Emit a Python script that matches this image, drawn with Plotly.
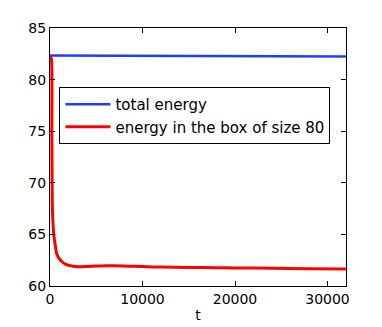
import plotly.graph_objects as go

# total energy (nearly constant)
t_total = [0, 5000, 10000, 15000, 20000, 25000, 32000]
e_total = [82.33, 82.32, 82.30, 82.29, 82.27, 82.25, 82.23]

# energy inside the box of size 80
t_box = [0, 150, 200, 250, 300, 410, 590, 700, 950, 1300, 1700, 2100, 2500, 3000,
         4000, 5000, 6000, 8000, 10000, 12000, 15000, 18000, 20000, 24000, 28000, 32000]
e_box = [82.3, 82.0, 75.0, 68.0, 66.5, 65.0, 63.8, 63.2, 62.7, 62.35, 62.1, 61.98, 61.92, 61.87,
         61.9, 61.93, 61.96, 61.95, 61.88, 61.83, 61.8, 61.78, 61.75, 61.72, 61.68, 61.64]

font = "DejaVu Sans"

fig = go.Figure()
fig.add_trace(go.Scatter(x=t_total, y=e_total, mode="lines", name="total energy",
                         line=dict(color="#1f3dff", width=2.5)))
fig.add_trace(go.Scatter(x=t_box, y=e_box, mode="lines", name="energy in the box of size 80",
                         line=dict(color="#ff0000", width=3, shape="spline", smoothing=0.6)))

axis_style = dict(showline=True, linecolor="black", linewidth=1, mirror="ticks",
                  ticks="inside", ticklen=5, tickcolor="black", showgrid=False, zeroline=False,
                  tickfont=dict(family=font, size=14, color="black"))

fig.update_xaxes(range=[0, 32000], tickvals=[0, 10000, 20000, 30000], tickformat="d",
                 title=dict(text="t", font=dict(family=font, size=14, color="black"), standoff=4),
                 **axis_style)
fig.update_yaxes(range=[60, 85], dtick=5, **axis_style)

# page body adds 8px offset, margins compensate for it
fig.update_layout(
    width=382, height=327,
    margin=dict(l=42, r=44, t=16, b=49),
    plot_bgcolor="white", paper_bgcolor="white",
    font=dict(family=font, size=14, color="black"),
    legend=dict(x=0.032, y=0.771, xanchor="left", yanchor="top",
                bgcolor="white", bordercolor="black", borderwidth=1,
                font=dict(family=font, size=15, color="black"),
                tracegroupgap=0, itemwidth=45),
)

fig.write_html("out.html")
